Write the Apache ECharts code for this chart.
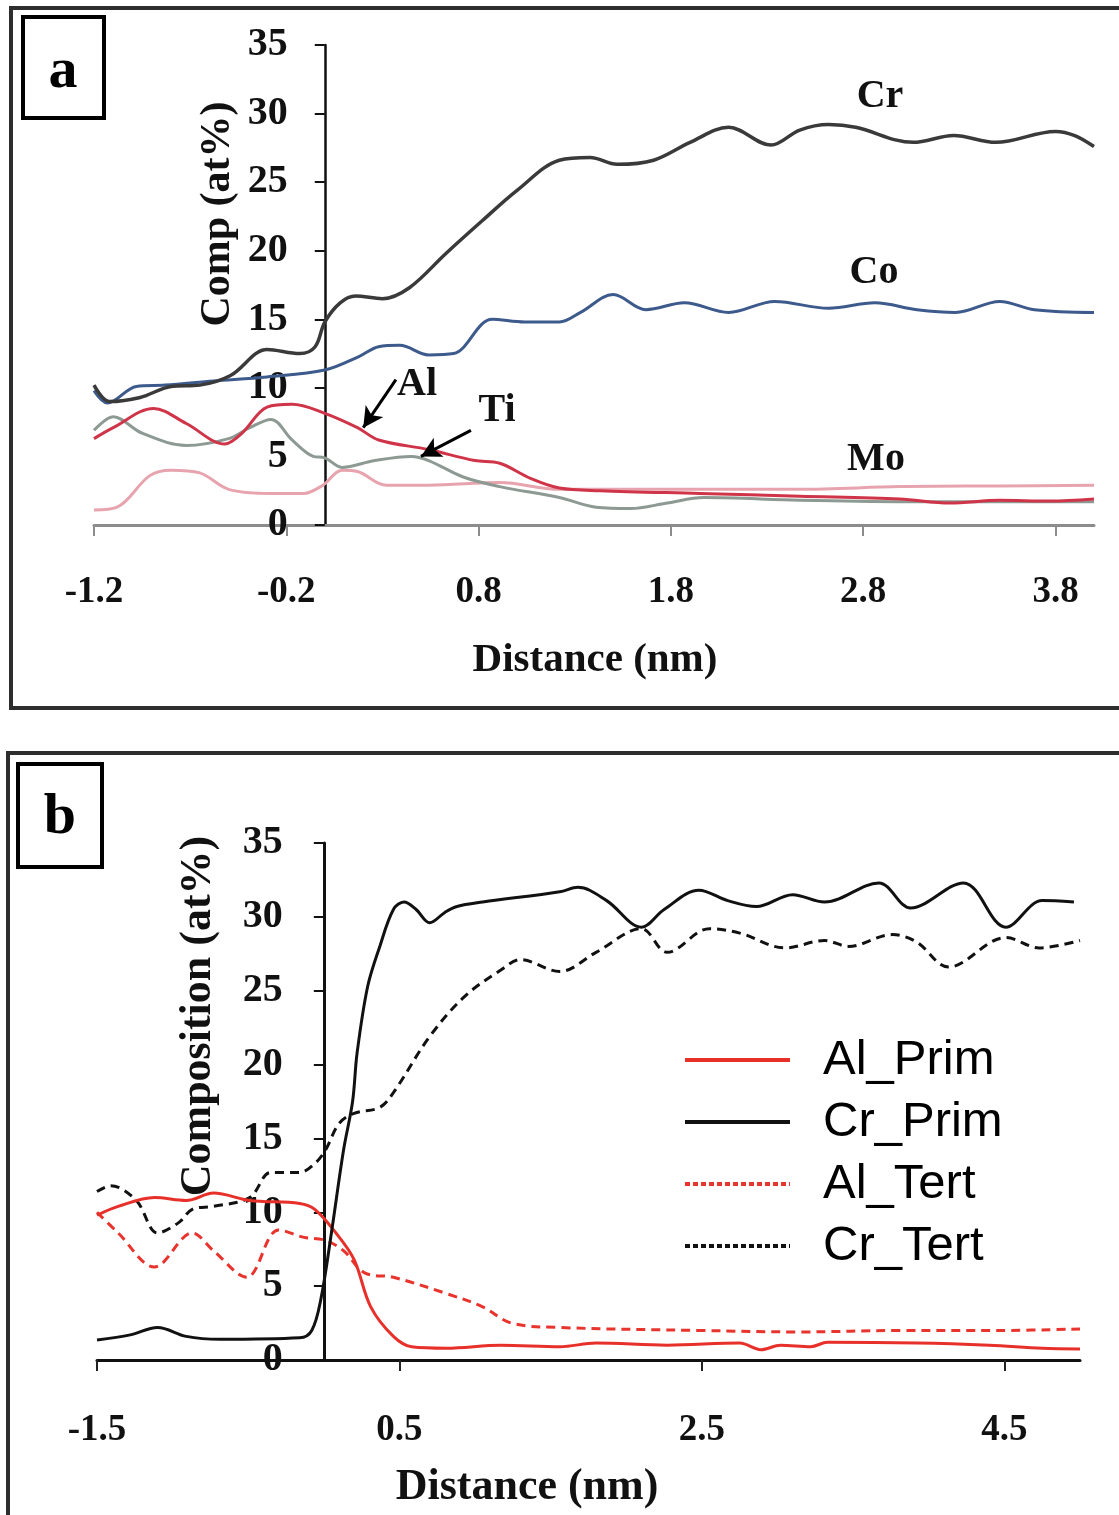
<!DOCTYPE html>
<html>
<head>
<meta charset="utf-8">
<script src="https://cdn.jsdelivr.net/npm/echarts@6/dist/echarts.min.js"></script>
<style>
html,body{margin:0;padding:0;background:#fff;}
#chart{width:1119px;height:1515px;}
</style>
</head>
<body>
<div id="chart"></div>
<script>
// ---------- Panel a data: [distance (nm), composition (at%)] ----------
const xTicksA = [-1.2, -0.2, 0.8, 1.8, 2.8, 3.8];
const crA = [[-1.2,10.2],[-1.12,9.0],[-0.96,9.3],[-0.8,10.1],[-0.65,10.2],[-0.49,10.9],[-0.3,12.8],[-0.13,12.5],[-0.05,13.0],[0.0,14.8],[0.08,16.2],[0.16,16.7],[0.3,16.5],[0.44,17.3],[0.63,19.8],[0.82,22.2],[1.0,24.4],[1.22,26.6],[1.38,26.8],[1.52,26.3],[1.71,26.6],[1.9,27.9],[2.1,29.0],[2.32,27.7],[2.47,28.8],[2.62,29.2],[2.76,29.0],[3.06,27.9],[3.27,28.4],[3.49,27.9],[3.8,28.7],[3.9,28.4],[4.0,27.6]];
const coA = [[-1.2,9.8],[-1.13,8.9],[-0.98,10.1],[-0.83,10.2],[-0.58,10.5],[-0.3,10.8],[0.0,11.3],[0.18,12.3],[0.28,13.0],[0.39,13.1],[0.54,12.4],[0.67,12.5],[0.87,15.0],[1.04,14.8],[1.22,14.8],[1.33,15.5],[1.5,16.8],[1.67,15.7],[1.87,16.2],[2.1,15.5],[2.34,16.3],[2.62,15.8],[2.86,16.2],[3.08,15.7],[3.28,15.5],[3.51,16.3],[3.69,15.7],[4.0,15.5]];
const alA = [[-1.2,6.3],[-1.1,7.1],[-0.89,8.5],[-0.72,7.4],[-0.52,5.9],[-0.43,6.7],[-0.3,8.6],[-0.17,8.8],[-0.01,8.2],[0.17,7.1],[0.28,6.2],[0.54,5.5],[0.78,4.7],[0.91,4.5],[1.07,3.4],[1.22,2.7],[1.43,2.5],[1.95,2.3],[2.47,2.1],[2.99,1.9],[3.25,1.6],[3.51,1.8],[3.77,1.75],[4.0,1.9]];
const tiA = [[-1.2,6.9],[-1.1,7.9],[-0.95,6.7],[-0.72,5.8],[-0.5,6.3],[-0.39,7.1],[-0.28,7.7],[-0.17,6.2],[-0.06,5.0],[0.0,4.9],[0.09,4.2],[0.26,4.7],[0.45,5.0],[0.54,4.7],[0.72,3.5],[0.91,2.8],[1.22,2.0],[1.41,1.3],[1.59,1.2],[1.78,1.6],[1.97,2.0],[2.47,1.8],[2.99,1.7],[3.51,1.7],[4.0,1.7]];
const moA = [[-1.2,1.1],[-1.08,1.3],[-0.91,3.6],[-0.8,4.0],[-0.65,3.8],[-0.5,2.6],[-0.28,2.3],[-0.11,2.3],[-0.01,2.9],[0.09,4.0],[0.17,3.9],[0.32,2.9],[0.54,2.9],[0.91,3.1],[1.22,2.6],[1.95,2.6],[2.47,2.6],[2.99,2.8],[3.51,2.85],[4.0,2.9]];

// ---------- Panel b data ----------
const xTicksB = [-1.5, 0.5, 2.5, 4.5];
const alPrim = [[-1.5,9.8],[-1.36,10.4],[-1.12,11.0],[-0.91,10.8],[-0.73,11.3],[-0.49,10.8],[-0.16,10.6],[-0.06,10.2],[0.08,8.6],[0.2,6.8],[0.31,3.6],[0.46,1.6],[0.58,0.9],[0.81,0.8],[1.17,1.0],[1.56,0.9],[1.8,1.15],[2.27,1.0],[2.75,1.15],[2.89,0.7],[3.02,1.0],[3.22,0.9],[3.33,1.2],[3.92,1.15],[4.4,1.0],[4.75,0.8],[5.0,0.75]];
const crPrim = [[-1.5,1.35],[-1.28,1.7],[-1.1,2.2],[-0.91,1.6],[-0.69,1.4],[-0.16,1.5],[-0.08,2.0],[-0.02,4.1],[0.05,8.6],[0.13,14.2],[0.19,17.5],[0.22,20.8],[0.29,25.3],[0.37,28.0],[0.46,30.5],[0.53,31.0],[0.61,30.5],[0.7,29.6],[0.8,30.3],[0.88,30.7],[1.05,31.0],[1.56,31.7],[1.68,32.0],[1.87,31.1],[2.1,29.3],[2.25,30.5],[2.48,31.8],[2.67,31.1],[2.86,30.7],[3.1,31.5],[3.31,31.0],[3.67,32.3],[3.88,30.6],[4.23,32.3],[4.51,29.3],[4.75,31.1],[4.96,31.0]];
const alTert = [[-1.5,10.0],[-1.36,8.6],[-1.12,6.3],[-0.87,8.6],[-0.73,7.4],[-0.51,5.6],[-0.3,8.8],[-0.13,8.3],[0.01,8.1],[0.13,7.4],[0.27,5.9],[0.46,5.6],[0.81,4.5],[1.05,3.6],[1.24,2.5],[1.56,2.2],[2.49,2.0],[3.15,1.9],[3.81,2.0],[4.47,2.0],[5.0,2.1]];
const crTert = [[-1.5,11.4],[-1.41,11.8],[-1.24,10.8],[-1.1,8.6],[-0.96,9.3],[-0.87,10.2],[-0.73,10.4],[-0.49,11.0],[-0.35,12.7],[-0.16,12.7],[-0.06,13.3],[0.01,14.2],[0.1,16.0],[0.2,16.7],[0.37,17.1],[0.46,18.1],[0.7,21.9],[0.93,24.6],[1.17,26.4],[1.3,27.1],[1.56,26.3],[1.8,27.6],[2.1,29.2],[2.27,27.6],[2.55,29.2],[2.75,28.9],[3.05,27.9],[3.31,28.4],[3.47,28.0],[3.76,28.8],[3.92,28.3],[4.13,26.6],[4.51,28.6],[4.73,27.9],[5.0,28.4]];

const SERIF = '"Liberation Serif","Times New Roman",serif';
const SANS = '"Liberation Sans",Arial,sans-serif';

const gridA = { left: 94, top: 45, width: 1000, height: 480 };
const gridB = { left: 97, top: 843, width: 983, height: 517 };
const xRangeA = [-1.2, 4.0];
const xRangeB = [-1.5, 5.0];
// the vertical axis crosses the horizontal axis at distance 0
const yOffsetA = -((0 - xRangeA[0]) / (xRangeA[1] - xRangeA[0])) * gridA.width;
const yOffsetB = -((0 - xRangeB[0]) / (xRangeB[1] - xRangeB[0])) * gridB.width;

function lineSeries(name, data, gi, color, width, type, extra) {
  return Object.assign({
    name: name, type: 'line', xAxisIndex: gi, yAxisIndex: gi,
    data: data, smooth: 0.35, showSymbol: false, symbol: 'none',
    lineStyle: { color: color, width: width, type: type },
    itemStyle: { color: color },
    emphasis: { disabled: true }, silent: true
  }, extra || {});
}

function arrow(from, to) {
  return [{ coord: from, symbol: 'none' }, { coord: to, symbol: 'arrow' }];
}

const chart = echarts.init(document.getElementById('chart'), null, { renderer: 'canvas' });

const tickLabelX = { fontFamily: SERIF, fontWeight: 'bold', fontSize: 37, color: '#111' };
const tickLabelY = { fontFamily: SERIF, fontWeight: 'bold', fontSize: 40, color: '#111' };

const option = {
  animation: false,
  backgroundColor: '#fff',
  grid: [gridA, gridB],
  xAxis: [
    { type: 'value', gridIndex: 0, min: xRangeA[0], max: xRangeA[1],
      axisLine: { show: true, onZero: false, lineStyle: { color: '#8c8c8c', width: 3 } },
      axisTick: { show: true, customValues: xTicksA, length: 11, lineStyle: { color: '#8c8c8c', width: 2 } },
      axisLabel: Object.assign({ customValues: xTicksA, margin: 49, formatter: v => v.toFixed(1) }, tickLabelX),
      splitLine: { show: false } },
    { type: 'value', gridIndex: 1, min: xRangeB[0], max: xRangeB[1],
      axisLine: { show: true, onZero: false, lineStyle: { color: '#111', width: 3 } },
      axisTick: { show: true, customValues: xTicksB, length: 11, lineStyle: { color: '#222', width: 2 } },
      axisLabel: Object.assign({ customValues: xTicksB, margin: 52, formatter: v => v.toFixed(1) }, tickLabelX),
      splitLine: { show: false } }
  ],
  yAxis: [
    { type: 'value', gridIndex: 0, min: 0, max: 35, interval: 5, position: 'left', offset: yOffsetA,
      axisLine: { show: true, onZero: false, lineStyle: { color: '#111', width: 2.5 } },
      axisTick: { show: true, length: 10, lineStyle: { color: '#111', width: 2 } },
      axisLabel: Object.assign({ margin: 37 }, tickLabelY),
      splitLine: { show: false } },
    { type: 'value', gridIndex: 1, min: 0, max: 35, interval: 5, position: 'left', offset: yOffsetB,
      axisLine: { show: true, onZero: false, lineStyle: { color: '#111', width: 3 } },
      axisTick: { show: true, length: 10, lineStyle: { color: '#111', width: 2 } },
      axisLabel: Object.assign({ margin: 41 }, tickLabelY),
      splitLine: { show: false } }
  ],
  legend: {
    data: [
      { name: 'Al_Prim', lineStyle: { width: 4 } },
      { name: 'Cr_Prim', lineStyle: { width: 4 } },
      { name: 'Al_Tert', lineStyle: { width: 4, type: [5, 3] } },
      { name: 'Cr_Tert', lineStyle: { width: 4, type: [5, 3] } }
    ],
    orient: 'vertical', left: 678, top: 1030,
    itemWidth: 105, itemHeight: 14, itemGap: 12,
    selectedMode: false,
    itemStyle: { opacity: 0 },
    textStyle: { fontFamily: SANS, fontSize: 49, color: '#000', lineHeight: 50, padding: [0, 0, 0, 28] }
  },
  series: [
    lineSeries('Mo', moA, 0, '#e7a4ae', 3, 'solid'),
    lineSeries('Ti', tiA, 0, '#8d9a93', 3, 'solid', {
      markLine: { silent: true, symbolSize: [16, 20], label: { show: false },
        lineStyle: { color: '#000', width: 3, type: 'solid' },
        data: [arrow([0.76, 6.9], [0.50, 5.0])] }
    }),
    lineSeries('Al', alA, 0, '#cf3448', 3, 'solid', {
      markLine: { silent: true, symbolSize: [16, 20], label: { show: false },
        lineStyle: { color: '#000', width: 3, type: 'solid' },
        data: [arrow([0.37, 10.6], [0.20, 7.1])] }
    }),
    lineSeries('Co', coA, 0, '#3d5a8c', 3, 'solid'),
    lineSeries('Cr', crA, 0, '#3a3a3a', 3.5, 'solid'),
    lineSeries('Al_Tert', alTert, 1, '#e8342c', 3, [9, 6]),
    lineSeries('Cr_Tert', crTert, 1, '#111111', 3, [9, 6]),
    lineSeries('Al_Prim', alPrim, 1, '#e8302a', 3, 'solid'),
    lineSeries('Cr_Prim', crPrim, 1, '#111111', 3, 'solid')
  ],
  graphic: [
    // panel frames
    { type: 'rect', z: -10, shape: { x: 11, y: 8, width: 1200, height: 700 }, style: { fill: 'none', stroke: '#2e2e2e', lineWidth: 4 } },
    { type: 'rect', z: -10, shape: { x: 8, y: 753, width: 1200, height: 800 }, style: { fill: 'none', stroke: '#2e2e2e', lineWidth: 4 } },
    // panel label boxes
    { type: 'rect', shape: { x: 23, y: 17, width: 81, height: 101 }, style: { fill: '#fff', stroke: '#000', lineWidth: 4 } },
    { type: 'text', x: 63, y: 72, style: { text: 'a', font: 'bold 58px ' + SERIF, fill: '#000', align: 'center', verticalAlign: 'middle' } },
    { type: 'rect', shape: { x: 18, y: 764, width: 84, height: 103 }, style: { fill: '#fff', stroke: '#000', lineWidth: 4 } },
    { type: 'text', x: 60, y: 818, style: { text: 'b', font: 'bold 58px ' + SERIF, fill: '#000', align: 'center', verticalAlign: 'middle' } },
    // axis titles
    { type: 'text', x: 218, y: 214, rotation: Math.PI / 2, style: { text: 'Comp (at%)', font: 'bold 42px ' + SERIF, fill: '#111', align: 'center', verticalAlign: 'middle' } },
    { type: 'text', x: 595, y: 660, style: { text: 'Distance (nm)', font: 'bold 41px ' + SERIF, fill: '#111', align: 'center', verticalAlign: 'middle' } },
    { type: 'text', x: 199, y: 1016, rotation: Math.PI / 2, style: { text: 'Composition (at%)', font: 'bold 44px ' + SERIF, fill: '#111', align: 'center', verticalAlign: 'middle' } },
    { type: 'text', x: 527, y: 1488, style: { text: 'Distance (nm)', font: 'bold 44px ' + SERIF, fill: '#111', align: 'center', verticalAlign: 'middle' } },
    // series annotations (panel a)
    { type: 'text', x: 880, y: 97, style: { text: 'Cr', font: 'bold 40px ' + SERIF, fill: '#111', align: 'center', verticalAlign: 'middle' } },
    { type: 'text', x: 874, y: 273, style: { text: 'Co', font: 'bold 40px ' + SERIF, fill: '#111', align: 'center', verticalAlign: 'middle' } },
    { type: 'text', x: 876, y: 460, style: { text: 'Mo', font: 'bold 40px ' + SERIF, fill: '#111', align: 'center', verticalAlign: 'middle' } },
    { type: 'text', x: 417, y: 385, style: { text: 'Al', font: 'bold 40px ' + SERIF, fill: '#111', align: 'center', verticalAlign: 'middle' } },
    { type: 'text', x: 497, y: 411, style: { text: 'Ti', font: 'bold 40px ' + SERIF, fill: '#111', align: 'center', verticalAlign: 'middle' } }
  ]
};
chart.setOption(option);
</script>
</body>
</html>
